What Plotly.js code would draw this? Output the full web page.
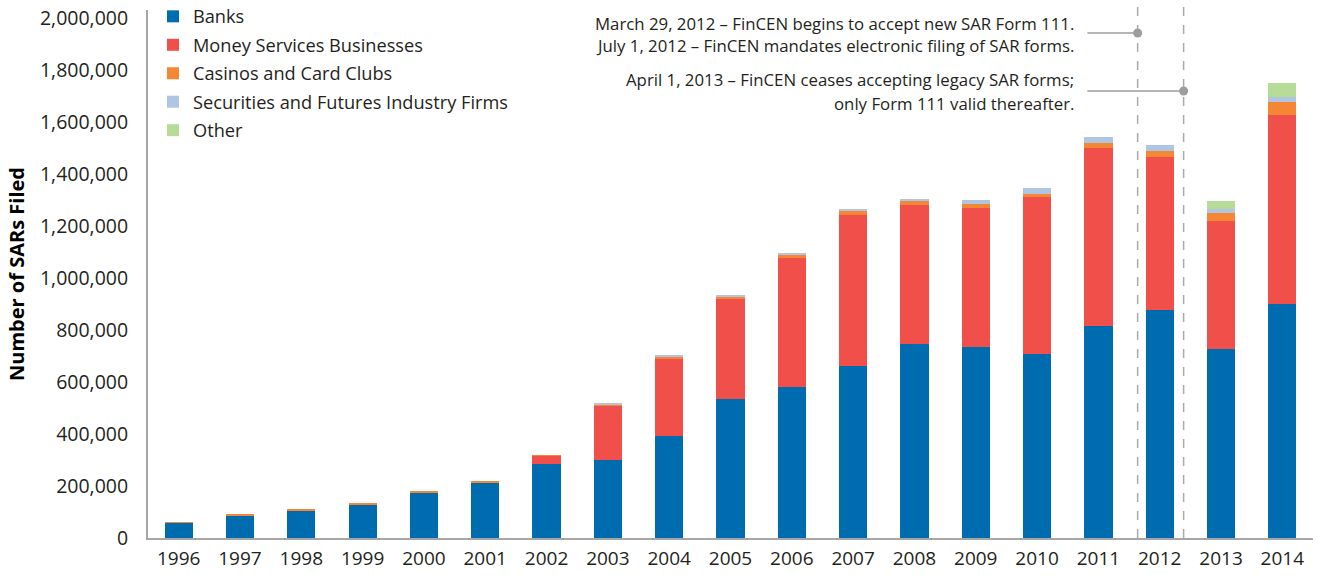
<!DOCTYPE html>
<html>
<head>
<meta charset="utf-8">
<script src="https://cdn.plot.ly/plotly-3.0.1.min.js"></script>
<style>
html,body{margin:0;padding:0;background:#fff;}
#chart{width:1317px;height:575px;}
</style>
</head>
<body>
<div id="chart"></div>
<script>
const years = ['1996','1997','1998','1999','2000','2001','2002','2003','2004','2005','2006','2007','2008','2009','2010','2011','2012','2013','2014'];
const banks      = [57000, 84000, 104000, 127000, 173000, 211000, 284000, 300000, 392000, 535000, 581000, 662000, 746000, 735000, 708000, 815000, 877000, 727000, 900000];
const msb        = [0, 0, 0, 0, 0, 0, 31000, 208000, 296000, 384000, 496000, 580000, 535000, 534000, 604000, 685000, 588000, 492000, 727000];
const casinos    = [6000, 7000, 7000, 7000, 7000, 7000, 4000, 3000, 8000, 8000, 11000, 15000, 15000, 16000, 12000, 19000, 23000, 31000, 50000];
const securities = [0, 0, 0, 0, 0, 0, 0, 8000, 8000, 8000, 8000, 8000, 7000, 16000, 22000, 23000, 23000, 15000, 19000];
const other      = [0, 0, 0, 0, 0, 0, 0, 0, 0, 0, 0, 0, 0, 0, 0, 0, 0, 31000, 54000];

const seriesNames = ['Banks','Money Services Businesses','Casinos and Card Clubs','Securities and Futures Industry Firms','Other'];
const seriesColors = ['#006cb0','#f1504a','#f58634','#afc5e1','#b7dc98'];
const seriesData = [banks, msb, casinos, securities, other];

const traces = seriesData.map((d, i) => ({
  type: 'bar',
  name: seriesNames[i],
  legendgroup: 'g' + i,
  x: years,
  y: d,
  marker: {color: seriesColors[i], line: {width: 0}},
  hoverinfo: 'x+y+name'
}));

const eventLines = [
  'March 29, 2012 – FinCEN begins to accept new SAR Form 111.',
  'July 1, 2012 – FinCEN mandates electronic filing of SAR forms.',
  'April 1, 2013 – FinCEN ceases accepting legacy SAR forms;',
  'only Form 111 valid thereafter.'
];

const font = '"Open Sans", "Noto Sans", sans-serif';
const txt = '#231f20';

function py(p){ return (538 - p) / 528; } // pixel y -> paper y

const annotations = [
  {text: eventLines[0], y: py(23)},
  {text: eventLines[1], y: py(45)},
  {text: eventLines[2], y: py(79.5)},
  {text: eventLines[3], y: py(103)}
].map(a => ({
  text: a.text, xref: 'x', x: 14.64, yref: 'paper', y: a.y,
  xanchor: 'right', yanchor: 'middle', showarrow: false, align: 'right',
  font: {family: font, size: 16.8, color: txt}
}));

const grey = '#9d9d9d';
const shapes = [
  {type: 'line', xref: 'x', yref: 'paper', x0: 15.64, x1: 15.64, y0: 0, y1: 1.012, line: {color: '#aaaaaa', width: 1.5, dash: 'dash'}},
  {type: 'line', xref: 'x', yref: 'paper', x0: 16.39, x1: 16.39, y0: 0, y1: 1.012, line: {color: '#aaaaaa', width: 1.5, dash: 'dash'}},
  {type: 'line', xref: 'x', yref: 'paper', x0: 14.82, x1: 15.64, y0: py(33), y1: py(33), line: {color: grey, width: 1.5}},
  {type: 'line', xref: 'x', yref: 'paper', x0: 14.82, x1: 16.39, y0: py(91), y1: py(91), line: {color: grey, width: 1.5}},
  {type: 'circle', xref: 'x', yref: 'paper', xsizemode: 'pixel', ysizemode: 'pixel', xanchor: 15.64, yanchor: py(33), x0: -4.5, x1: 4.5, y0: -4.5, y1: 4.5, fillcolor: grey, line: {width: 0}},
  {type: 'circle', xref: 'x', yref: 'paper', xsizemode: 'pixel', ysizemode: 'pixel', xanchor: 16.39, yanchor: py(91), x0: -4.5, x1: 4.5, y0: -4.5, y1: 4.5, fillcolor: grey, line: {width: 0}}
];

const layout = {
  width: 1317, height: 575,
  margin: {l: 148, r: 4, t: 10, b: 37, autoexpand: false},
  paper_bgcolor: '#ffffff', plot_bgcolor: '#ffffff',
  barmode: 'stack',
  bargap: 0.54,
  font: {family: font, color: txt},
  showlegend: true,
  legend: {
    x: 0.0043, y: py(-2), xanchor: 'left', yanchor: 'top',
    bgcolor: 'rgba(0,0,0,0)', traceorder: 'grouped', tracegroupgap: 1.8,
    font: {family: font, size: 18.2, color: txt},
    itemwidth: 30
  },
  xaxis: {
    type: 'category',
    showgrid: false, zeroline: false,
    showline: true, linecolor: '#a6a6a6', linewidth: 2,
    ticks: '', tickfont: {family: font, size: 19, color: txt},
    ticklabelstandoff: 2,
    range: [-0.5, 18.5]
  },
  yaxis: {
    range: [0, 2030769],
    showgrid: false, zeroline: false,
    showline: true, linecolor: '#a6a6a6', linewidth: 2,
    ticks: '', tickvals: [0,200000,400000,600000,800000,1000000,1200000,1400000,1600000,1800000,2000000],
    tickformat: ',d',
    tickfont: {family: font, size: 19.5, color: txt},
    ticklabelstandoff: 14,
    title: {text: 'Number of SARs Filed', font: {family: font, size: 20, color: '#000', weight: 'bold'}, standoff: 10}
  },
  annotations: annotations,
  shapes: shapes
};

Plotly.newPlot('chart', traces, layout, {displayModeBar: false, staticPlot: true});
</script>
</body>
</html>
